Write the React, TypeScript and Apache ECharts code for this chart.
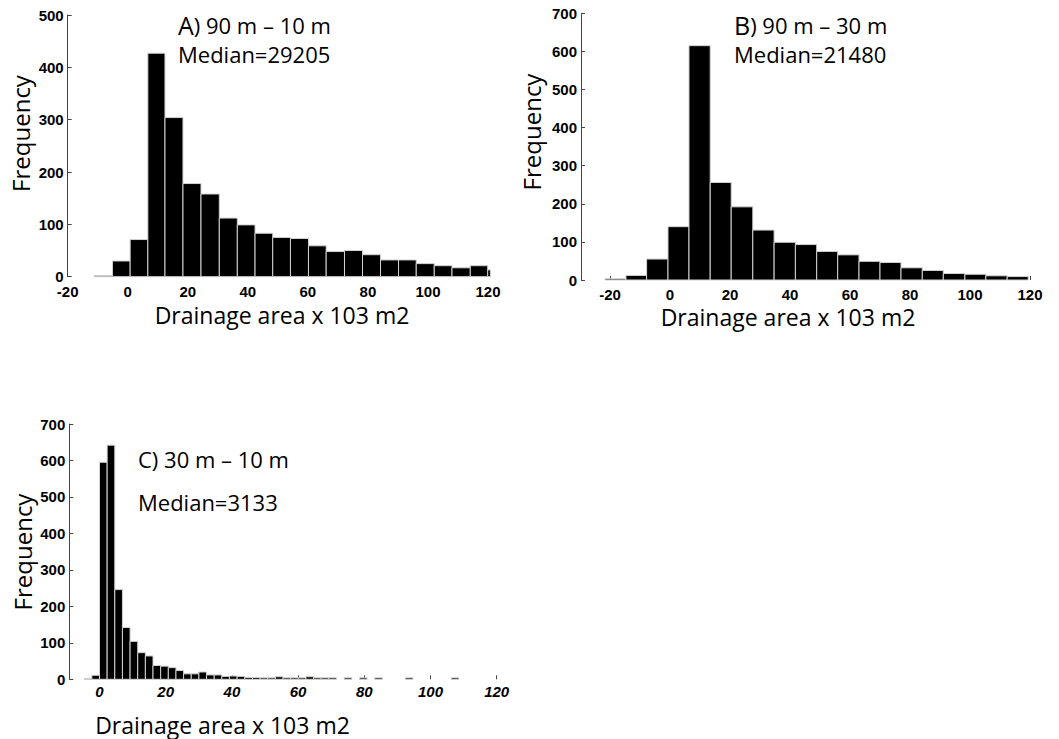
import { useEffect, useRef } from "react";
import * as echarts from "echarts";

// ---------- data ----------
// Panel A: 90 m – 10 m
const binEdgesA = [-11.1, -5.1, 0.8, 6.7, 12.4, 18.4, 24.4, 30.5, 36.5, 42.4, 48.3, 54.2, 60.2, 66.1, 72.2, 78.2, 84.2, 90.2, 96.1, 102.1, 108.0, 114.1, 119.9, 120.8];
const countsA = [2, 30, 71, 427, 304, 178, 158, 112, 99, 83, 75, 73, 59, 48, 50, 42, 32, 32, 25, 21, 17, 21, 13];

// Panel B: 90 m – 30 m
const binEdgesB = [-21.67, -14.67, -7.8, -0.67, 6.33, 13.4, 20.4, 27.6, 34.7, 41.8, 48.9, 55.9, 63.0, 70.0, 77.0, 84.1, 91.1, 98.3, 105.3, 112.4, 119.4];
const countsB = [3, 12, 55, 140, 615, 256, 192, 131, 99, 93, 75, 66, 49, 46, 32, 25, 17, 15, 11, 9];

// Panel C: 30 m – 10 m
const binEdgesC = [-4.62, -2.31, 0, 2.31, 4.62, 6.93, 9.24, 11.55, 13.86, 16.17, 18.48, 20.79, 23.1, 25.41, 27.72, 30.03, 32.34, 34.65, 36.96, 39.27, 41.58, 43.89, 46.2, 48.51, 50.82, 53.13, 55.44, 57.75, 60.06, 62.37, 64.68, 66.99, 69.3, 71.61, 73.92, 76.23, 78.54, 80.85, 83.16, 85.47, 87.78, 90.09, 92.4, 94.71, 97.02, 99.33, 101.64, 103.95, 106.26, 108.57, 110.88, 113.19, 115.5, 117.81, 120.12];
const countsC = [2, 11, 595, 642, 246, 142, 104, 73, 64, 38, 36, 32, 24, 15, 15, 20, 12, 12, 8, 9, 8, 5, 5, 4, 4, 7, 4, 4, 4, 7, 4, 4, 4, 0, 4, 0, 4, 0, 4, 0, 0, 0, 4, 0, 0, 0, 0, 0, 4, 0, 0, 0, 0, 0];

const letterA = "A";
const letterB = "B";
const titleA = ") 90 m – 10 m";
const titleB = ") 90 m – 30 m";
const titleC = "C) 30 m – 10 m";
const medianA = "Median=29205";
const medianB = "Median=21480";
const medianC = "Median=3133";
const xTitle = "Drainage area x 103 m2";
const yTitle = "Frequency";

const xMinAB = -20;
const xMinC = 0;
const xMax = 120;
const xStep = 20;
const yMaxA = 500;
const yMaxBC = 700;
const yStep = 100;

// ---------- helpers ----------
const toBins = (edges: number[], counts: number[]) =>
  counts.map((c, i) => [edges[i], edges[i + 1], c]);

const renderBin = (_params: any, api: any) => {
  const count = api.value(2);
  if (!count) return null;
  const p0 = api.coord([api.value(0), count]);
  const p1 = api.coord([api.value(1), 0]);
  return {
    type: "rect",
    shape: { x: p0[0], y: p0[1], width: p1[0] - p0[0], height: p1[1] - p0[1] },
    style: { fill: "#000", stroke: "#d2d2d2", lineWidth: 1 },
  };
};

const labelFont = {
  fontFamily: "'Liberation Sans', Arial, sans-serif",
  fontSize: 15,
  lineHeight: 13,
  fontWeight: "bold" as const,
  color: "#000",
};
const textFont = "'Open Sans', 'Noto Sans', sans-serif";
const axisColor = "#444";

const makeX = (gridIndex: number, min: number, italic: boolean, margin: number) => ({
  type: "value",
  gridIndex,
  min,
  max: xMax,
  interval: xStep,
  axisLine: { show: false, onZero: false },
  axisTick: { show: true, inside: true, length: 4, lineStyle: { color: axisColor } },
  splitLine: { show: false },
  axisLabel: { ...labelFont, margin, fontStyle: italic ? "italic" : "normal" },
});

const makeY = (gridIndex: number, max: number, offset: number) => ({
  type: "value",
  gridIndex,
  min: 0,
  max,
  interval: yStep,
  offset,
  axisLine: { show: true, onZero: false, lineStyle: { color: axisColor, width: 1 } },
  axisTick: { show: true, inside: true, length: 4, lineStyle: { color: axisColor } },
  splitLine: { show: false },
  axisLabel: { ...labelFont, lineHeight: 11, margin: 4 },
});

const txt = (text: string, x: number, y: number, size: number, align = "left", rotation = 0) => ({
  type: "text",
  x,
  y,
  rotation,
  silent: true,
  style: {
    text,
    fill: "#000",
    fontSize: size,
    lineHeight: size,
    fontFamily: textFont,
    align,
    verticalAlign: "middle",
  },
});

// two-line panel heading: big letter + title on line 1, median on line 2
const heading = (letter: string, title: string, median: string, x: number, top: number, letterSize: number) => ({
  type: "text",
  x,
  y: top,
  silent: true,
  style: {
    text: `{l|${letter}}{t|${title}}\n{t|${median}}`,
    fill: "#000",
    fontFamily: textFont,
    fontSize: 22,
    align: "left",
    verticalAlign: "top",
    rich: {
      l: { fontSize: letterSize, lineHeight: 29, fontFamily: textFont, fill: "#000" },
      t: { fontSize: 22, lineHeight: 29, fontFamily: textFont, fill: "#000" },
    },
  },
});

export default function App() {
  const ref = useRef<HTMLDivElement>(null);

  useEffect(() => {
    if (!ref.current) return;
    const chart = echarts.init(ref.current, undefined, { renderer: "svg" });
    const option: any = {
      animation: false,
      backgroundColor: "#fff",
      grid: [
        { left: 67.7, right: 571, top: 15, bottom: 462.3 },
        { left: 610, right: 29, top: 13.3, bottom: 459 },
        { left: 99.5, right: 562.3, top: 424, bottom: 59.7 },
      ],
      xAxis: [
        makeX(0, xMinAB, false, 8),
        makeX(1, xMinAB, false, 7.5),
        makeX(2, xMinC, true, 6),
      ],
      yAxis: [makeY(0, yMaxA, 0), makeY(1, yMaxBC, 29), makeY(2, yMaxBC, 30.2)],
      series: [
        {
          type: "custom",
          xAxisIndex: 0,
          yAxisIndex: 0,
          clip: false,
          renderItem: renderBin,
          encode: { x: [0, 1], y: 2 },
          data: toBins(binEdgesA, countsA),
        },
        {
          type: "custom",
          xAxisIndex: 1,
          yAxisIndex: 1,
          clip: false,
          renderItem: renderBin,
          encode: { x: [0, 1], y: 2 },
          data: toBins(binEdgesB, countsB),
        },
        {
          type: "custom",
          xAxisIndex: 2,
          yAxisIndex: 2,
          clip: false,
          renderItem: renderBin,
          encode: { x: [0, 1], y: 2 },
          data: toBins(binEdgesC, countsC),
        },
      ],
      graphic: [
        // Panel A
        heading(letterA, titleA, medianA, 178, 10.5, 25),
        txt(yTitle, 20, 133.5, 24, "center", Math.PI / 2),
        txt(xTitle, 282, 315, 23, "center"),
        // Panel B
        heading(letterB, titleB, medianB, 734, 10.5, 25),
        txt(yTitle, 531, 132, 24, "center", Math.PI / 2),
        txt(xTitle, 788, 317, 23, "center"),
        // Panel C
        txt(titleC, 138, 458.5, 22),
        txt(medianC, 138, 501.5, 22),
        txt(yTitle, 22, 552, 24, "center", Math.PI / 2),
        txt(xTitle, 222.5, 724.5, 23, "center"),
      ],
    };
    chart.setOption(option);
    return () => chart.dispose();
  }, []);

  return (
    <div
      ref={ref}
      style={{ position: "fixed", left: 0, top: 0, width: 1059, height: 739, background: "#fff" }}
    />
  );
}
